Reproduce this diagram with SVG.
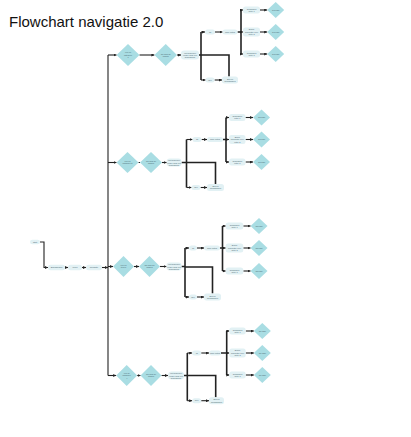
<svg xmlns="http://www.w3.org/2000/svg" width="411" height="437" viewBox="0 0 411 437">
<defs>
<marker id="ah" viewBox="0 0 4 4" refX="4" refY="2" markerWidth="3" markerHeight="3" markerUnits="userSpaceOnUse" orient="auto"><path d="M0,0 L4,2 L0,4 z" fill="#222"/></marker>
<style>
.ln{fill:none;stroke:#222;stroke-width:1.1}
.tk{fill:none;stroke:#222;stroke-width:1.6}
.ar{marker-end:url(#ah)}
.dm{fill:#a9dde3}
.bx{fill:#e2f1f4}
.t{font-family:"Liberation Sans",Arial,sans-serif;font-size:2px;fill:#4a6670;text-anchor:middle}
.title{font-family:"Liberation Sans",Arial,sans-serif;font-size:15px;fill:#111}
</style>
</defs>
<rect width="411" height="437" fill="#fff"/>
<text x="9" y="27" class="title">Flowchart navigatie 2.0</text>

<g id="connectors">
<path class="ln" d="M40,242 H44 V267.5 H48" marker-end="url(#ah)"/>
<path class="ln ar" d="M65,267.5 H68"/>
<path class="ln ar" d="M82,267.5 H86"/>
<path class="ln ar" d="M102,267.5 H108"/>
<path class="ln" d="M108,55 V375.5"/>
<path class="ln ar" d="M108,55 H116.5"/>
<path class="ln ar" d="M139.5,55 H154.4"/>
<path class="ln ar" d="M177,55 H181"/>
<path class="tk" d="M199,55 H201 M201,32 V80 M201,55 H229 V76.5"/>
<path class="ln ar" d="M201,32 H205"/>
<path class="ln ar" d="M201,80 H205.5"/>
<path class="ln ar" d="M215,32 H222.5"/>
<path class="ln ar" d="M214.5,80 H222"/>
<path class="tk" d="M237.5,32 H241 M241,10 V54"/>
<path class="ln ar" d="M241,10 H243"/><path class="ln ar" d="M241,32 H243"/><path class="ln ar" d="M241,54 H243"/>
<path class="ln ar" d="M260,10 H267.2"/><path class="ln ar" d="M260,32 H267.2"/><path class="ln ar" d="M260,54 H267.2"/>
<path class="ln ar" d="M108,162.5 H116.5"/>
<path class="ln" d="M138.5,162.5 H140"/>
<path class="ln ar" d="M162,162.5 H166.7"/>
<path class="tk" d="M181.5,162.5 H186.5 M186.5,139.5 V187.5 M186.5,162.5 H215.5 V184"/>
<path class="ln ar" d="M186.5,139.5 H192.5"/>
<path class="ln ar" d="M186.5,187.5 H191.5"/>
<path class="ln ar" d="M201.5,139.5 H207"/>
<path class="ln ar" d="M200.5,187.5 H207"/>
<path class="tk" d="M223,139.5 H226 M226,117.5 V162"/>
<path class="ln ar" d="M226,117.5 H229"/><path class="ln ar" d="M226,139.5 H229"/><path class="ln ar" d="M226,162 H229"/>
<path class="ln ar" d="M245.5,117.5 H253"/><path class="ln ar" d="M245.5,139.5 H253"/><path class="ln ar" d="M245.5,162 H253"/>
<path class="ln ar" d="M108,266.5 H113"/>
<path class="ln ar" d="M134,266.5 H139"/>
<path class="ln ar" d="M160,266.5 H166.5"/>
<path class="tk" d="M181.5,266.5 H185 M185,248 V297 M185,267 H212.5 V293.5"/>
<path class="ln ar" d="M185,248 H189"/>
<path class="ln ar" d="M185,297 H189"/>
<path class="ln ar" d="M197,248 H204"/>
<path class="ln ar" d="M197,297 H204"/>
<path class="tk" d="M220,248 H222.5 M222.5,226 V271"/>
<path class="ln ar" d="M222.5,226 H225.7"/><path class="ln ar" d="M222.5,248 H225.7"/><path class="ln ar" d="M222.5,271 H225.7"/>
<path class="ln ar" d="M243.3,226 H250.5"/><path class="ln ar" d="M243.3,248 H250.5"/><path class="ln ar" d="M243.3,271 H250.5"/>
<path class="ln ar" d="M108,375.5 H116.2"/>
<path class="ln ar" d="M137.2,375.5 H140.5"/>
<path class="ln ar" d="M161.5,375.5 H168"/>
<path class="tk" d="M184,375.5 H187.3 M187.3,353 V400.7 M187.3,375.5 H215.7 V397.2"/>
<path class="ln ar" d="M187.3,353 H192.2"/>
<path class="ln ar" d="M187.3,400.7 H192.2"/>
<path class="ln ar" d="M201.2,353 H209"/>
<path class="ln ar" d="M201.2,400.7 H209"/>
<path class="tk" d="M221,353 H226.7 M226.7,331 V375"/>
<path class="ln ar" d="M226.7,331 H229.3"/><path class="ln ar" d="M226.7,353 H229.3"/><path class="ln ar" d="M226.7,375 H229.3"/>
<path class="ln ar" d="M245.7,331 H253.8"/><path class="ln ar" d="M245.7,353 H253.8"/><path class="ln ar" d="M245.7,375 H253.8"/>
</g>

<g id="start"><rect class="bx" x="30" y="239.7" width="10" height="4.6" rx="2.3"/><text class="t" x="35" y="242.7">Start</text></g>
<g id="bedrijfsnaam"><rect class="bx" x="48" y="264.8" width="17" height="5.4" rx="2.5"/><text class="t" x="56.5" y="268.2">Bedrijfsnaam</text></g>
<g id="menu"><rect class="bx" x="68" y="264.8" width="14" height="5.4" rx="2.5"/><text class="t" x="75" y="268.2">Menu</text></g>
<g id="navigatie"><rect class="bx" x="86" y="264.8" width="16" height="5.4" rx="2.5"/><text class="t" x="94" y="268.2">Navigatie</text></g>

<g id="b1-d1"><polygon class="dm" points="116.5,55 128,44 139.5,55 128,66"/><text class="t" x="128" y="53.3">Klik op<tspan x="128" dy="2.4">categorie</tspan><tspan x="128" dy="2.4">1</tspan></text></g>
<g id="b1-d2"><polygon class="dm" points="154.4,55 165.7,44 177,55 165.7,66"/><text class="t" x="165.7" y="54.5">Ga naar de<tspan x="165.7" dy="2.4">pagina</tspan></text></g>
<g id="b1-q"><rect class="bx" x="181" y="50.5" width="18" height="9" rx="3"/><text class="t" x="190" y="53.6">Wilt gebruiker<tspan x="190" dy="2.4">verder naar een</tspan><tspan x="190" dy="2.4">subpagina?</tspan></text></g>
<g id="b1-ja"><rect class="bx" x="205" y="29.5" width="10" height="5" rx="2.5"/><text class="t" x="210" y="32.7">Ja</text></g>
<g id="b1-toon"><rect class="bx" x="222.5" y="29.5" width="15" height="5" rx="2.5"/><text class="t" x="230" y="32.7">Toon opties</text></g>
<g id="b1-o1"><rect class="bx" x="243" y="6.5" width="17" height="7" rx="2.5"/><text class="t" x="251.5" y="9.5">Subpagina<tspan x="251.5" dy="2.4">optie 1</tspan></text></g>
<g id="b1-o2"><rect class="bx" x="243" y="27.5" width="17" height="9" rx="2.5"/><text class="t" x="251.5" y="30.3">Bekijk<tspan x="251.5" dy="2.4">informatie over</tspan><tspan x="251.5" dy="2.4">optie 2</tspan></text></g>
<g id="b1-o3"><rect class="bx" x="243" y="50.5" width="17" height="7" rx="2.5"/><text class="t" x="251.5" y="53.5">Subpagina<tspan x="251.5" dy="2.4">optie 3</tspan></text></g>
<g id="b1-g1"><polygon class="dm" points="267.2,10 275.7,2 284.2,10 275.7,18"/><text class="t" x="275.7" y="10.7">Ga naar</text></g>
<g id="b1-g2"><polygon class="dm" points="267.2,32 275.7,24 284.2,32 275.7,40"/><text class="t" x="275.7" y="32.7">Ga naar</text></g>
<g id="b1-g3"><polygon class="dm" points="267.2,54 275.7,46 284.2,54 275.7,62"/><text class="t" x="275.7" y="54.7">Ga naar</text></g>
<g id="b1-nee"><rect class="bx" x="205.5" y="77.5" width="9" height="5" rx="2.5"/><text class="t" x="210" y="80.7">Nee</text></g>
<g id="b1-terug"><rect class="bx" x="222" y="76.5" width="16" height="7" rx="2.5"/><text class="t" x="230" y="79.5">Blijf op<tspan x="230" dy="2.4">hoofdpagina</tspan></text></g>

<g id="b2-d1"><polygon class="dm" points="116.5,162.5 127.5,152 138.5,162.5 127.5,173"/><text class="t" x="127.5" y="162">Klik op<tspan x="127.5" dy="2.4">categorie 2</tspan></text></g>
<g id="b2-d2"><polygon class="dm" points="140,162.5 151,152 162,162.5 151,173"/><text class="t" x="151" y="162">Ga naar de<tspan x="151" dy="2.4">pagina</tspan></text></g>
<g id="b2-q"><rect class="bx" x="166.7" y="158.5" width="14.8" height="8" rx="3"/><text class="t" x="174" y="161.2">Wilt gebruiker<tspan x="174" dy="2.4">verder naar een</tspan><tspan x="174" dy="2.4">subpagina?</tspan></text></g>
<g id="b2-ja"><rect class="bx" x="192.5" y="137" width="9" height="5" rx="2.5"/><text class="t" x="197" y="140.2">Ja</text></g>
<g id="b2-toon"><rect class="bx" x="207" y="137" width="16" height="5" rx="2.5"/><text class="t" x="215" y="140.2">Toon opties</text></g>
<g id="b2-o1"><rect class="bx" x="229" y="114" width="16.5" height="7" rx="2.5"/><text class="t" x="237.3" y="117">Subpagina<tspan x="237.3" dy="2.4">optie 1</tspan></text></g>
<g id="b2-o2"><rect class="bx" x="229" y="135" width="16.5" height="9" rx="2.5"/><text class="t" x="237.3" y="137.8">Bekijk<tspan x="237.3" dy="2.4">informatie over</tspan><tspan x="237.3" dy="2.4">optie 2</tspan></text></g>
<g id="b2-o3"><rect class="bx" x="229" y="158.5" width="16.5" height="7" rx="2.5"/><text class="t" x="237.3" y="161.5">Subpagina<tspan x="237.3" dy="2.4">optie 3</tspan></text></g>
<g id="b2-g1"><polygon class="dm" points="253,117.5 261.5,109.5 270,117.5 261.5,125.5"/><text class="t" x="261.5" y="118.2">Ga naar</text></g>
<g id="b2-g2"><polygon class="dm" points="253,139.5 261.5,131.5 270,139.5 261.5,147.5"/><text class="t" x="261.5" y="140.2">Ga naar</text></g>
<g id="b2-g3"><polygon class="dm" points="253,162 261.5,154 270,162 261.5,170"/><text class="t" x="261.5" y="162.7">Ga naar</text></g>
<g id="b2-nee"><rect class="bx" x="191.5" y="185" width="9" height="5" rx="2.5"/><text class="t" x="196" y="188.2">Nee</text></g>
<g id="b2-terug"><rect class="bx" x="207" y="184" width="17" height="7" rx="2.5"/><text class="t" x="215.5" y="187">Blijf op<tspan x="215.5" dy="2.4">hoofdpagina</tspan></text></g>

<g id="b3-d1"><polygon class="dm" points="113,266.5 123.5,256 134,266.5 123.5,277"/><text class="t" x="123.5" y="266">Klik op<tspan x="123.5" dy="2.4">item 3</tspan></text></g>
<g id="b3-d2"><polygon class="dm" points="139,266.5 149.5,256 160,266.5 149.5,277"/><text class="t" x="149.5" y="266">Ga naar de<tspan x="149.5" dy="2.4">pagina</tspan></text></g>
<g id="b3-q"><rect class="bx" x="166.5" y="262.5" width="15" height="8" rx="3"/><text class="t" x="174" y="265.2">Wilt gebruiker<tspan x="174" dy="2.4">verder naar een</tspan><tspan x="174" dy="2.4">subpagina?</tspan></text></g>
<g id="b3-ja"><rect class="bx" x="189" y="245.5" width="8" height="5" rx="2.5"/><text class="t" x="193" y="248.7">Ja</text></g>
<g id="b3-toon"><rect class="bx" x="204" y="245.5" width="16" height="5" rx="2.5"/><text class="t" x="212" y="248.7">Toon opties</text></g>
<g id="b3-o1"><rect class="bx" x="225.7" y="222.5" width="17.6" height="7" rx="2.5"/><text class="t" x="234.5" y="225.5">Subpagina<tspan x="234.5" dy="2.4">optie 1</tspan></text></g>
<g id="b3-o2"><rect class="bx" x="225.7" y="243.5" width="17.6" height="9" rx="2.5"/><text class="t" x="234.5" y="246.3">Bekijk<tspan x="234.5" dy="2.4">informatie over</tspan><tspan x="234.5" dy="2.4">optie 2</tspan></text></g>
<g id="b3-o3"><rect class="bx" x="225.7" y="267.5" width="17.6" height="7" rx="2.5"/><text class="t" x="234.5" y="270.5">Subpagina<tspan x="234.5" dy="2.4">optie 3</tspan></text></g>
<g id="b3-g1"><polygon class="dm" points="250.5,226 259,218 267.5,226 259,234"/><text class="t" x="259" y="226.7">Ga naar</text></g>
<g id="b3-g2"><polygon class="dm" points="250.5,248 259,240 267.5,248 259,256"/><text class="t" x="259" y="248.7">Ga naar</text></g>
<g id="b3-g3"><polygon class="dm" points="250.5,271 259,263 267.5,271 259,279"/><text class="t" x="259" y="271.7">Ga naar</text></g>
<g id="b3-nee"><rect class="bx" x="189" y="294.5" width="8" height="5" rx="2.5"/><text class="t" x="193" y="297.7">Nee</text></g>
<g id="b3-terug"><rect class="bx" x="204" y="293.5" width="17" height="7" rx="2.5"/><text class="t" x="212.5" y="296.5">Blijf op<tspan x="212.5" dy="2.4">hoofdpagina</tspan></text></g>

<g id="b4-d1"><polygon class="dm" points="116.2,375.5 126.7,365 137.2,375.5 126.7,386"/><text class="t" x="126.7" y="373.8">Klik op<tspan x="126.7" dy="2.4">categorie</tspan><tspan x="126.7" dy="2.4">4</tspan></text></g>
<g id="b4-d2"><polygon class="dm" points="140.5,375.5 151,365 161.5,375.5 151,386"/><text class="t" x="151" y="375">Ga naar de<tspan x="151" dy="2.4">pagina</tspan></text></g>
<g id="b4-q"><rect class="bx" x="168" y="371.5" width="16" height="8" rx="3.5"/><text class="t" x="176" y="374.2">Wilt gebruiker<tspan x="176" dy="2.4">verder naar een</tspan><tspan x="176" dy="2.4">subpagina?</tspan></text></g>
<g id="b4-ja"><rect class="bx" x="192.2" y="350.5" width="9" height="5" rx="2.5"/><text class="t" x="196.7" y="353.7">Ja</text></g>
<g id="b4-toon"><rect class="bx" x="209" y="350.5" width="12" height="5" rx="2.5"/><text class="t" x="215" y="353.7">Toon opties</text></g>
<g id="b4-o1"><rect class="bx" x="229.3" y="327.5" width="16.4" height="7" rx="2.5"/><text class="t" x="237.5" y="330.5">Subpagina<tspan x="237.5" dy="2.4">optie 1</tspan></text></g>
<g id="b4-o2"><rect class="bx" x="229.3" y="348.5" width="16.4" height="9" rx="2.5"/><text class="t" x="237.5" y="351.3">Bekijk<tspan x="237.5" dy="2.4">informatie over</tspan><tspan x="237.5" dy="2.4">optie 2</tspan></text></g>
<g id="b4-o3"><rect class="bx" x="229.3" y="371.5" width="16.4" height="7" rx="2.5"/><text class="t" x="237.5" y="374.5">Subpagina<tspan x="237.5" dy="2.4">optie 3</tspan></text></g>
<g id="b4-g1"><polygon class="dm" points="253.8,331 262.3,323 270.8,331 262.3,339"/><text class="t" x="262.3" y="331.7">Ga naar</text></g>
<g id="b4-g2"><polygon class="dm" points="253.8,353 262.3,345 270.8,353 262.3,361"/><text class="t" x="262.3" y="353.7">Ga naar</text></g>
<g id="b4-g3"><polygon class="dm" points="253.8,375 262.3,367 270.8,375 262.3,383"/><text class="t" x="262.3" y="375.7">Ga naar</text></g>
<g id="b4-nee"><rect class="bx" x="192.2" y="398.2" width="9" height="5" rx="2.5"/><text class="t" x="196.7" y="401.4">Nee</text></g>
<g id="b4-terug"><rect class="bx" x="209" y="397.2" width="15" height="7" rx="2.5"/><text class="t" x="216.5" y="400.2">Blijf op<tspan x="216.5" dy="2.4">hoofdpagina</tspan></text></g>
</svg>
